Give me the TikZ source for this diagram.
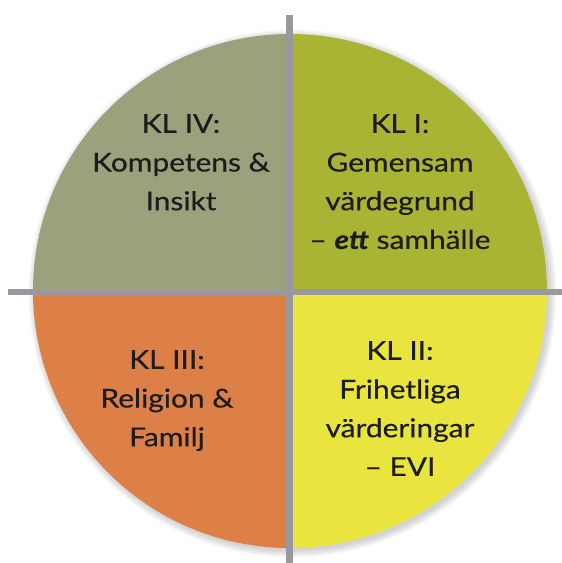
\documentclass[tikz,border=0pt]{standalone}
\usepackage{fontspec}
\setmainfont[FakeStretch=1.15,FakeBold=0.4]{Lato}
\definecolor{klone}{RGB}{169,180,52}
\definecolor{kltwo}{RGB}{234,228,62}
\definecolor{klthree}{RGB}{220,128,72}
\definecolor{klfour}{RGB}{155,160,125}
\definecolor{crossgray}{RGB}{152,152,158}
\definecolor{textdark}{RGB}{28,28,28}

\begin{document}
\begin{tikzpicture}[x=1pt,y=-1pt,
  quadtext/.style={align=center, inner sep=0pt, anchor=north, text=textdark,
    font=\fontsize{26}{38.7}\selectfont},
  crossline/.style={line width=6.5pt, draw=crossgray}]
  \useasboundingbox (0,0) rectangle (562,563);

  % Soft shadow round the disc
  \foreach \d in {1,...,8}
    \fill[black, opacity=0.025] (292.5,293.5) circle ({(256+\d)*1pt});

  % Quadrants
  \begin{scope}
    \clip (290,291) circle (257pt);
    \fill[klfour]  (0,0)     rectangle (290,291);
    \fill[klone]   (290,0)   rectangle (562,291);
    \fill[klthree] (0,291)   rectangle (290,563);
    \fill[kltwo]   (290,291) rectangle (562,563);
  \end{scope}

  % Cross
  \coordinate (vtop) at (289.5,15);
  \coordinate (vbot) at (289.5,563);
  \coordinate (hleft) at (8,292);
  \coordinate (hright) at (562,292);
  \draw[crossline] (vtop) -- (vbot);
  \draw[crossline] (hleft) -- (hright);

  % Labels
  \node[quadtext] (klfourtext) at (181,114) {KL IV:\\Kompetens \&\\Insikt};
  \node[quadtext] (klonetext) at (400,114)
    {KL I:\\Gemensam\\värdegrund\\– \textbf{\textit{ett}} samhälle};
  \node[quadtext] (klthreetext) at (167,350) {KL III:\\Religion \&\\Familj};
  \node[quadtext] (kltwotext) at (400,341)
    {KL II:\\Frihetliga\\värderingar\\– EVI};

\end{tikzpicture}
\end{document}
